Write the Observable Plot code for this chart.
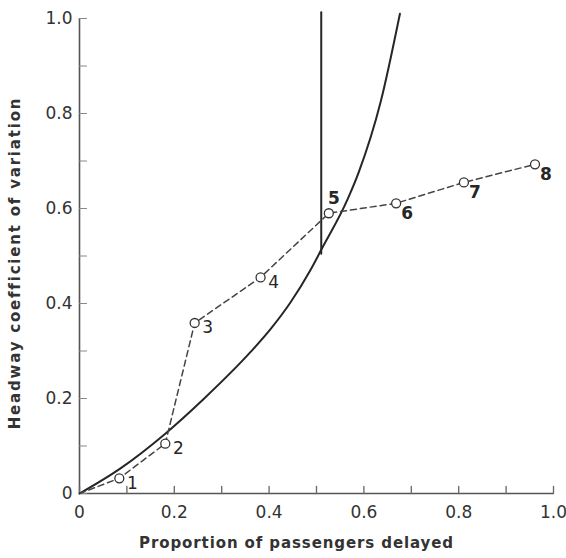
<!DOCTYPE html>
<html><head><meta charset="utf-8">
<script src="https://cdn.jsdelivr.net/npm/d3@7"></script>
<script src="https://cdn.jsdelivr.net/npm/@observablehq/plot@0.6"></script>
<style>body{margin:0;background:#fff;} svg{display:block;}</style>
</head><body><div id="chart"></div>
<script>
// Observed points (numbered)
const pointLabels = ["1","2","3","4","5","6","7","8"];
const pointX = [0.084, 0.181, 0.243, 0.382, 0.526, 0.668, 0.811, 0.961];
const pointY = [0.032, 0.105, 0.359, 0.455, 0.590, 0.611, 0.655, 0.693];
// dashed line starts at the origin
const dashOrigin = [0, 0];
// solid theoretical curve
const curveX = [0, 0.0865, 0.181, 0.262, 0.361, 0.403, 0.445, 0.487, 0.51, 0.565, 0.589, 0.635, 0.676];
const curveY = [0, 0.053, 0.126, 0.199, 0.298, 0.346, 0.402, 0.470, 0.513, 0.618, 0.676, 0.823, 1.010];
// vertical boundary line
const boundX = [0.51, 0.51];
const boundY = [0.505, 1.013];
// ticks
const majorTicks = [0, 0.2, 0.4, 0.6, 0.8, 1.0];
const minorTicks = [0.1, 0.3, 0.5, 0.7, 0.9];
const allTicks = majorTicks.concat(minorTicks);
const xTitle = "Proportion of passengers delayed";
const yTitle = "Headway coefficient of variation";

const points = pointX.map((x, i) => ({x, y: pointY[i], label: pointLabels[i], i}));
const dashed = [{x: dashOrigin[0], y: dashOrigin[1]}].concat(points);
const curve = curveX.map((x, i) => ({x, y: curveY[i]}));
const bound = boundX.map((x, i) => ({x, y: boundY[i]}));
const fmt = d => d === 0 ? "0" : d.toFixed(1);

const tickUp = {draw(ctx, l) { ctx.moveTo(0, 0); ctx.lineTo(0, -l); }};
const ink = "#262626";

const chart = Plot.plot({
  width: 566,
  height: 558,
  marginLeft: 79,
  marginRight: 13,
  marginTop: 18,
  marginBottom: 65,
  style: {fontFamily: "DejaVu Sans", fontSize: "17px", background: "#fff", color: "#333"},
  x: {domain: [0, 1], axis: null},
  y: {domain: [0, 1], axis: null},
  marks: [
    Plot.ruleY([0], {stroke: "#555", strokeWidth: 1.6}),
    Plot.ruleX([0], {stroke: "#555", strokeWidth: 1.6}),
    Plot.vector(allTicks, {x: d => d, y: d => 0, length: 7, rotate: 0, anchor: "start", shape: tickUp, stroke: "#666", strokeWidth: 1.3}),
    Plot.vector(allTicks, {x: d => 0, y: d => d, length: 7, rotate: 90, anchor: "start", shape: tickUp, stroke: "#888", strokeWidth: 1.1}),
    Plot.axisX({ticks: majorTicks, tickSize: 0, tickPadding: 12, tickFormat: fmt, fontSize: 17, fill: "#333", label: null}),
    Plot.axisY({ticks: majorTicks, tickSize: 0, tickPadding: 7, tickFormat: fmt, fontSize: 17, fill: "#333", label: null}),
    Plot.line(curve, {x: "x", y: "y", curve: "monotone-x", stroke: ink, strokeWidth: 2}),
    Plot.line(bound, {x: "x", y: "y", stroke: ink, strokeWidth: 2}),
    Plot.line(dashed, {x: "x", y: "y", stroke: "#444", strokeWidth: 1.5, strokeDasharray: "6,4"}),
    Plot.dot(points, {x: "x", y: "y", r: 4.5, fill: "white", stroke: "#333", strokeWidth: 1.3}),
    Plot.text(points, {filter: d => d.i < 4, x: "x", y: "y", text: "label", dx: 13, dy: 5, fontSize: 17, fill: ink}),
    Plot.text(points, {filter: d => d.i === 4, x: "x", y: "y", text: "label", dx: 5, dy: -15, fontSize: 17, fontWeight: "bold", fill: ink}),
    Plot.text(points, {filter: d => d.i > 4, x: "x", y: "y", text: "label", dx: 11, dy: 10, fontSize: 17, fontWeight: "bold", fill: ink}),
    Plot.text([xTitle], {text: d => d, frameAnchor: "bottom", dy: 54, dx: -20, fontSize: 15, fontWeight: "bold", fill: "#333"}),
    Plot.text([yTitle], {text: d => d, frameAnchor: "left", textAnchor: "middle", rotate: -90, dx: -64, dy: 7, fontSize: 15, fontWeight: "bold", fill: "#333"})
  ]
});
chart.querySelectorAll("text").forEach(t => {
  if (t.textContent === xTitle) t.style.letterSpacing = "0.9px";
  if (t.textContent === yTitle) t.style.letterSpacing = "1.8px";
});
document.getElementById("chart").appendChild(chart);
</script>
</body></html>
